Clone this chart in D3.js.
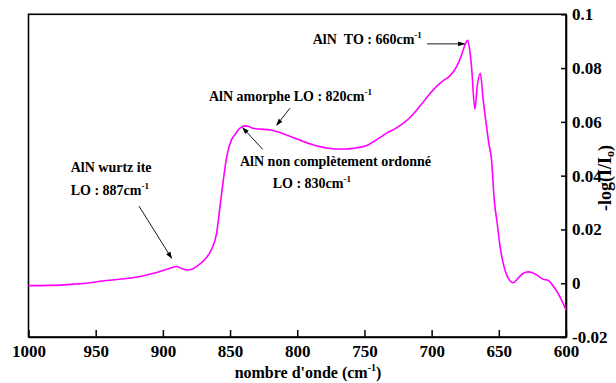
<!DOCTYPE html>
<html><head><meta charset="utf-8">
<script src="https://cdn.jsdelivr.net/npm/d3@7"></script>
<style>
html,body{margin:0;padding:0;background:#fff;}
</style></head>
<body><svg id="c" width="616" height="383"></svg>
<script>
// wavenumber (cm-1), descending
const wavenumber = [1000,985,974,965,957,945,932,920,907,897,890,886,882,878,875,869,864,860,857.5,855,852.5,849,846,844,841,839,836,833,827,820,814,808,802,795.5,789,783,777,771,764,758,751,747,743,738,733.5,727,721,715,709,704,698.8,694,691.4,686.4,681.4,677.7,675.2,673.2,671.5,670.3,667.8,666.1,663.8,661.6,659.1,657.6,655.4,653.4,651.2,649.2,646.7,643,639.3,635.6,632,628.1,625,621.9,617,613.2,608.3,604.6,600];
const absorbance = [-0.0009,-0.0008,-0.0006,-0.0003,0.0,0.0008,0.0015,0.0022,0.0037,0.0052,0.0062,0.0055,0.0049,0.0053,0.0062,0.0087,0.0124,0.0186,0.0285,0.0384,0.047,0.0533,0.0555,0.057,0.0582,0.0585,0.0583,0.0576,0.0573,0.057,0.0562,0.0551,0.054,0.0527,0.0516,0.0508,0.0502,0.0499,0.0499,0.0502,0.0508,0.0515,0.0527,0.0543,0.0558,0.0575,0.0595,0.0622,0.0657,0.0688,0.0719,0.0742,0.0753,0.0771,0.0805,0.0849,0.0886,0.0903,0.0861,0.0805,0.0647,0.0731,0.0781,0.0681,0.0582,0.0525,0.0458,0.031,0.0223,0.0142,0.0074,0.0019,0.0002,0.0019,0.0036,0.0042,0.0039,0.0031,0.0015,0.001,-0.0019,-0.005,-0.0099];
const xTicks = [1000,950,900,850,800,750,700,650,600];
const xTickLabels = ["1000","950","900","850","800","750","700","650","600"];
const yTicks = [0.1,0.08,0.06,0.04,0.02,0,-0.02];
const yTickLabels = ["0.1","0.08","0.06","0.04","0.02","0","-0.02"];
// annotations: text lines (data coords of start/baseline) and arrows (tail -> tip)
const annoTexts = [
  {w:788.5, v:0.089, parts:["AlN\u00a0\u00a0TO : 660cm","-1"]},
  {w:865.7, v:0.0678, parts:["AlN amorphe LO : 820cm","-1"]},
  {w:842.6, v:0.0436, parts:["AlN non complètement ordonné"]},
  {w:818.3, v:0.0353, parts:["LO : 830cm","-1"]},
  {w:968.6, v:0.0415, parts:["AlN wurtz ite"]},
  {w:968.6, v:0.0328, parts:["LO : 887cm","-1"]}
];
const annoArrows = [
  {w0:703.4, v0:0.089, w1:675.6, v1:0.089},
  {w0:805.4, v0:0.0651, w1:815.3, v1:0.0588},
  {w0:825.7, v0:0.0498, w1:840.6, v1:0.0578},
  {w0:917.8, v0:0.0287, w1:893.5, v1:0.0093}
];

const FONT = "'Liberation Serif', 'Times New Roman', Times, serif";
const svg = d3.select("#c");
const L=28.5, R=566, T=14.3, B=337;
const x = d3.scaleLinear().domain([1000,600]).range([L,R]);
const y = d3.scaleLinear().domain([-0.02,0.1]).range([B,T]);

svg.append("defs").append("marker").attr("id","ah").attr("viewBox","0 0 10 10")
  .attr("refX",9).attr("refY",5).attr("markerWidth",7).attr("markerHeight",7)
  .attr("markerUnits","userSpaceOnUse").attr("orient","auto")
  .append("path").attr("d","M0,1.5 L10,5 L0,8.5 z").attr("fill","#000");

// frame
svg.append("rect").attr("x",L).attr("y",T).attr("width",R-L).attr("height",B-T)
  .attr("fill","none").attr("stroke","#000").attr("stroke-width",1.6);

function styleText(sel, size){
  sel.style("font-family",FONT).style("font-weight","bold").style("font-size",size+"px").attr("fill","#000");
}

// x axis
const xa = svg.append("g").attr("transform",`translate(0,${B})`)
  .call(d3.axisBottom(x).tickValues(xTicks).tickFormat((d,i)=>xTickLabels[i]).tickSizeInner(-7).tickSizeOuter(0).tickPadding(8));
xa.attr("font-family",null);
xa.select(".domain").attr("stroke-width",1.6);
xa.selectAll(".tick line").attr("stroke-width",1.5);
styleText(xa.selectAll("text"),17);

// y axis (right)
const ya = svg.append("g").attr("transform",`translate(${R},0)`)
  .call(d3.axisRight(y).tickValues(yTicks).tickFormat((d,i)=>yTickLabels[i]).tickSizeInner(-5).tickSizeOuter(0).tickPadding(6));
ya.attr("font-family",null);
ya.select(".domain").attr("stroke-width",1.6);
ya.selectAll(".tick line").attr("stroke-width",1.5);
styleText(ya.selectAll("text"),17);

// curve
const pts = wavenumber.map((w,i)=>[w,absorbance[i]]);
svg.append("path").datum(pts)
  .attr("d", d3.line().x(d=>x(d[0])).y(d=>y(d[1])).curve(d3.curveMonotoneX))
  .attr("fill","none").attr("stroke","#ff00ff").attr("stroke-width",1.6);

// annotations
annoTexts.forEach(a=>{
  const t = svg.append("text").attr("x",x(a.w)).attr("y",y(a.v));
  styleText(t,14);
  t.append("tspan").text(a.parts[0]);
  if(a.parts[1]) t.append("tspan").attr("dy",-6).style("font-size","9px").text(a.parts[1]);
});
annoArrows.forEach(a=>{
  svg.append("line").attr("x1",x(a.w0)).attr("y1",y(a.v0)).attr("x2",x(a.w1)).attr("y2",y(a.v1))
    .attr("stroke","#000").attr("stroke-width",0.9).attr("marker-end","url(#ah)");
});

// axis titles
const xt = svg.append("text").attr("x",308).attr("y",378).attr("text-anchor","middle");
styleText(xt,16);
xt.append("tspan").text("nombre d'onde (cm");
xt.append("tspan").attr("dy",-7).style("font-size","10px").text("-1");
xt.append("tspan").attr("dy",7).text(")");

const yt = svg.append("text").attr("transform","translate(611,178) rotate(-90)").attr("text-anchor","middle");
styleText(yt,18);
yt.append("tspan").text("-log(I/I");
yt.append("tspan").attr("dy",3).style("font-size","12px").text("o");
yt.append("tspan").attr("dy",-3).text(")");
</script></body></html>
